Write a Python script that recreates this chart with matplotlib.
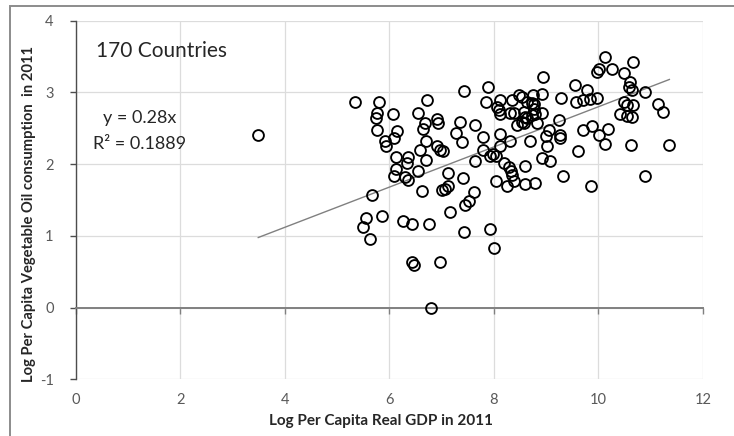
import numpy as np
import matplotlib
matplotlib.use("Agg")
import matplotlib.pyplot as plt
from matplotlib.patches import Rectangle

plt.rcParams['font.family'] = ['Lato', 'DejaVu Sans']
plt.rcParams['axes.unicode_minus'] = False

# Log per capita real GDP (2011) for each country
gdp = [
    3.49, 5.34, 5.66, 5.55, 5.50, 5.63, 5.86, 6.26, 6.43, 6.75,
    6.44, 6.48, 6.96, 6.80, 7.16, 7.45, 7.53, 7.43, 7.93, 8.00,
    5.80, 5.76, 5.75, 5.77, 5.91, 5.93, 6.06, 6.14, 6.09, 6.12,
    6.36, 6.33, 6.12, 6.08, 6.30, 6.36, 6.55, 6.55, 6.72, 6.64,
    6.68, 6.70, 6.59, 6.71, 6.62, 6.91, 6.94, 6.91, 6.97, 7.03,
    7.00, 7.07, 7.13, 7.13, 7.41, 7.62, 7.35, 7.28, 7.39, 7.64,
    7.64, 7.80, 7.42, 7.88, 7.85, 7.79, 7.92, 7.99, 8.05, 8.12,
    8.11, 8.19, 8.29, 8.32, 8.34, 8.38, 8.25, 8.05, 8.31, 8.60,
    8.69, 8.92, 9.08, 9.01, 9.00, 9.05, 9.24, 9.26, 9.27, 8.59,
    8.79, 9.33, 9.86, 9.62, 8.44, 8.57, 8.82, 8.60, 8.73, 8.76,
    8.79, 8.92, 8.73, 8.75, 8.49, 8.53, 8.34, 8.38, 8.12, 8.06,
    8.09, 8.11, 8.93, 8.95, 9.29, 8.63, 8.77, 8.57, 8.63, 8.53,
    8.30, 9.56, 9.78, 9.98, 9.84, 9.70, 9.57, 10.13, 9.97, 10.02,
    10.27, 10.50, 10.67, 10.61, 10.58, 10.64, 10.90, 10.49, 10.55, 10.67,
    10.42, 10.55, 10.64, 11.14, 11.23, 11.36, 10.90, 10.62, 10.13, 10.18,
    10.02, 9.87, 9.70,
]

# Log per capita vegetable oil consumption (2011) for each country
oil = [
    2.41, 2.86, 1.57, 1.25, 1.12, 0.95, 1.28, 1.21, 1.17, 1.17,
    0.64, 0.59, 0.64, 0.00, 1.33, 1.43, 1.48, 1.06, 1.09, 0.83,
    2.86, 2.72, 2.64, 2.47, 2.32, 2.26, 2.70, 2.46, 2.37, 2.10,
    2.10, 2.01, 1.93, 1.84, 1.82, 1.78, 1.90, 2.71, 2.89, 2.49,
    2.58, 2.32, 2.20, 2.06, 1.63, 2.63, 2.58, 2.25, 2.20, 2.18,
    1.64, 1.65, 1.69, 1.87, 1.80, 1.61, 2.59, 2.43, 2.31, 2.54,
    2.05, 2.38, 3.02, 3.08, 2.86, 2.20, 2.11, 2.14, 2.11, 2.25,
    2.42, 2.02, 1.96, 1.90, 1.85, 1.77, 1.70, 1.77, 2.32, 1.97,
    2.32, 2.08, 2.04, 2.25, 2.39, 2.47, 2.62, 2.41, 2.36, 1.73,
    1.74, 1.83, 1.70, 2.19, 2.55, 2.58, 2.58, 2.66, 2.69, 2.77,
    2.70, 2.72, 2.85, 2.97, 2.97, 2.94, 2.89, 2.71, 2.90, 2.79,
    2.76, 2.70, 2.98, 3.21, 2.92, 2.87, 2.84, 2.73, 2.64, 2.59,
    2.72, 3.10, 3.03, 2.92, 2.91, 2.89, 2.87, 3.50, 3.29, 3.32,
    3.33, 3.27, 3.42, 3.15, 3.08, 3.03, 3.00, 2.87, 2.83, 2.82,
    2.70, 2.67, 2.66, 2.84, 2.73, 2.27, 1.83, 2.27, 2.28, 2.49,
    2.41, 2.53, 2.47,
]

slope = 0.28
r_squared = 0.1889
x_ticks = [0, 2, 4, 6, 8, 10, 12]
y_ticks = [-1, 0, 1, 2, 3, 4]

fig = plt.figure(figsize=(7.34, 4.36), dpi=100)
ax = fig.add_axes([0.1035, 0.130, 0.854, 0.8225])

# thin frame around the chart area
fig.patches.append(Rectangle((10 / 734, -0.05), 1.2, 1 - 6.5 / 436 + 0.05,
                             transform=fig.transFigure, fill=False,
                             edgecolor='#8c8c8c', linewidth=1.4, zorder=0))

ax.set_xlim(0, 12)
ax.set_ylim(-1, 4)
ax.set_xticks(x_ticks)
ax.set_yticks(y_ticks)
ax.grid(True, color='#dcdcdc', linewidth=0.9)
ax.set_axisbelow(True)

for side in ('top', 'right'):
    ax.spines[side].set_visible(False)
ax.spines['left'].set_color('#4d4d4d')
ax.spines['left'].set_linewidth(1.0)
ax.spines['bottom'].set_position(('data', 0))
ax.spines['bottom'].set_color('#808080')
ax.spines['bottom'].set_linewidth(1.4)

ax.tick_params(axis='x', direction='out', length=4, width=1.0, color='#808080',
               labelbottom=False)
ax.tick_params(axis='y', direction='out', length=4, width=1.0, color='#4d4d4d',
               labelsize=10.5, labelcolor='#595959', pad=12)

# tick labels along the bottom edge, independent of the zero line
sec = ax.secondary_xaxis(0.0)
sec.set_xticks(x_ticks)
sec.tick_params(length=0, labelsize=10.5, labelcolor='#595959', pad=10)
sec.spines['bottom'].set_visible(False)

ax.set_xlabel('Log Per Capita Real GDP in 2011', fontsize=11, fontweight='bold',
              color='#262626')
ax.xaxis.set_label_coords(0.487, -0.097)

ax.set_ylabel('Log Per Capita Vegetable Oil consumption  in 2011', fontsize=10.6,
              fontweight='bold', color='#262626')
ax.yaxis.set_label_coords(-0.064, 0.46)

ax.plot(gdp, oil, linestyle='none', marker='o', markersize=7.8,
        markerfacecolor='none', markeredgecolor='black', markeredgewidth=1.35,
        zorder=3)

xs = np.array([min(gdp), max(gdp)])
ax.plot(xs, slope * xs, color='#808080', linewidth=1.0, zorder=2)

ax.text(0.38, 3.58, '170 Countries', fontsize=15, color='#262626',
        va='center', ha='left')
ax.text(1.22, 2.64, f'y = {slope:.2f}x', fontsize=13, color='#262626',
        va='center', ha='center')
ax.text(1.22, 2.28, f'R² = {r_squared:.4f}', fontsize=13, color='#262626',
        va='center', ha='center')

fig.savefig('out.png', dpi=100)
